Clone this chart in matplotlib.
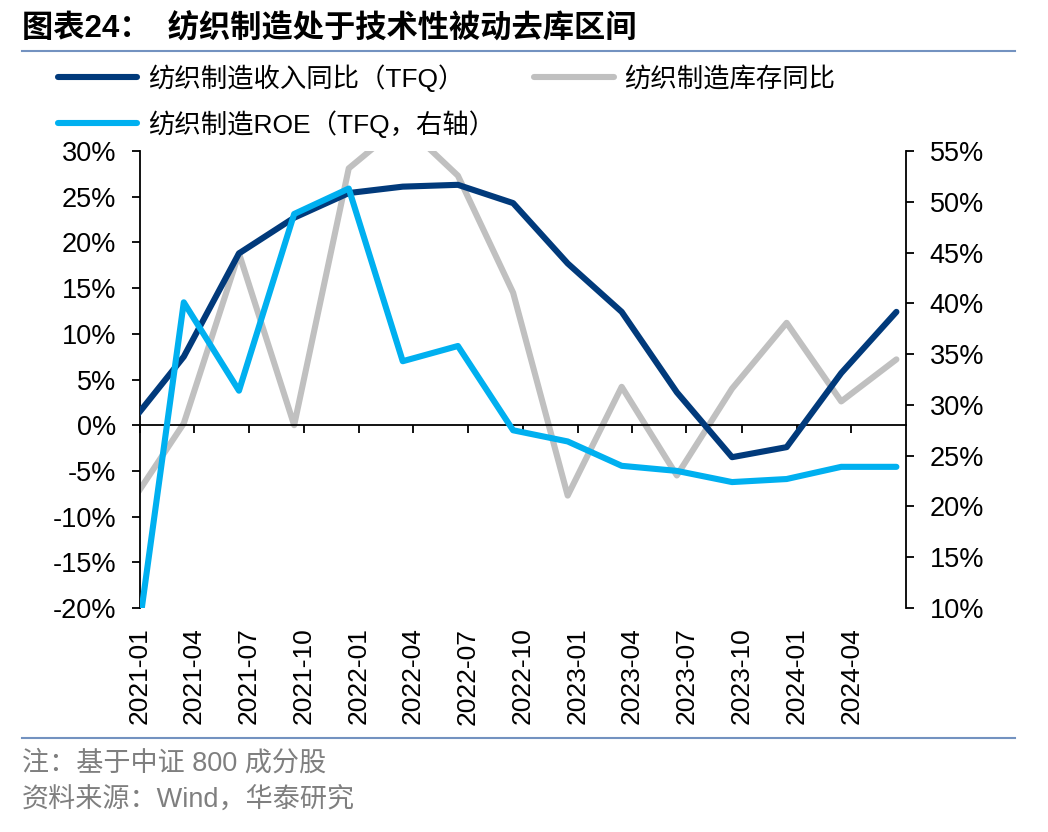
import matplotlib
matplotlib.use("Agg")
import matplotlib.pyplot as plt
import matplotlib.dates as mdates
from matplotlib.ticker import MultipleLocator, FuncFormatter
import pandas as pd

plt.rcParams['font.family'] = ['Liberation Sans', 'Noto Sans CJK SC']
plt.rcParams['axes.unicode_minus'] = False

# quarterly data (month of quarter end)
quarters = ['2020-12', '2021-03', '2021-06', '2021-09', '2021-12', '2022-03', '2022-06',
            '2022-09', '2022-12', '2023-03', '2023-06', '2023-09', '2023-12', '2024-03', '2024-06']
revenue_yoy = [0.1, 7.5, 18.8, 22.7, 25.4, 26.1, 26.3, 24.3, 17.7, 12.4, 3.6, -3.5, -2.4, 5.7, 12.4]
inventory_yoy = [-8.7, 0.2, 18.8, 0.0, 28.1, 33.0, 27.3, 14.5, -7.7, 4.2, -5.5, 4.0, 11.2, 2.6, 7.2]
roe = [1.4, 40.1, 31.4, 48.8, 51.3, 34.3, 35.8, 27.5, 26.4, 24.0, 23.5, 22.4, 22.7, 23.9, 23.9]

name_rev = '纺织制造收入同比（TFQ）'
name_inv = '纺织制造库存同比'
name_roe = '纺织制造ROE（TFQ，右轴）'

# points sit in the middle of their month
dates = pd.to_datetime(quarters) + pd.Timedelta(days=14)

c_rev = '#013A7B'
c_inv = '#C0C0C0'
c_roe = '#00B0F0'
lw = 4.4

fig = plt.figure(figsize=(10.48, 8.32), dpi=100)
ax = fig.add_axes([140/1048, 224/832, 766/1048, 457/832])
ax2 = ax.twinx()

l1, = ax.plot(dates, revenue_yoy, color=c_rev, lw=lw, solid_capstyle='round', zorder=3)
l2, = ax.plot(dates, inventory_yoy, color=c_inv, lw=lw, solid_capstyle='round', zorder=2)
l3, = ax2.plot(dates, roe, color=c_roe, lw=lw, solid_capstyle='round', zorder=3)

ax.set_xlim(pd.Timestamp('2021-01-01'), pd.Timestamp('2024-07-01'))
ax.set_ylim(-20, 30)
ax2.set_ylim(10, 55)
ax.yaxis.set_major_locator(MultipleLocator(5))
ax2.yaxis.set_major_locator(MultipleLocator(5))
pct = FuncFormatter(lambda v, p: f'{v:.0f}%')
ax.yaxis.set_major_formatter(pct)
ax2.yaxis.set_major_formatter(pct)

ax.set_xticks(pd.date_range('2021-01-01', '2024-04-01', freq='3MS'))
ax.xaxis.set_major_formatter(mdates.DateFormatter('%Y-%m'))

# x axis line at zero, labels pushed down to the bottom of the plot
ax.spines['bottom'].set_position(('data', 0))
ax.spines['top'].set_visible(False)
ax.spines['right'].set_visible(False)
for s in ['top', 'bottom', 'left']:
    ax2.spines[s].set_visible(False)
for s in [ax.spines['left'], ax.spines['bottom'], ax2.spines['right']]:
    s.set_linewidth(1.3)
    s.set_color('black')

ax.tick_params(axis='x', direction='out', length=6, width=1.3, pad=(202 - 8) * 0.72,
               labelsize=19, labelrotation=90)
ax.tick_params(axis='y', direction='out', length=6, width=1.3, pad=11, labelsize=19.5)
ax2.tick_params(axis='y', direction='out', length=6, width=1.3, pad=11, labelsize=19.5)

# title and rules
fig.text(22/1048, 1 - 28/832, '图表24：  纺织制造处于技术性被动去库区间', fontsize=22.5,
         fontweight='bold', va='center', ha='left')
fig.add_artist(plt.Line2D([22/1048, 1015/1048], [1 - 51/832, 1 - 51/832], color='#7392C0', lw=1.5))
fig.add_artist(plt.Line2D([22/1048, 1015/1048], [1 - 738/832, 1 - 738/832], color='#7392C0', lw=1.5))

fig.legend([l1, l3, l2], [name_rev, name_roe, name_inv], ncol=2, frameon=False,
           loc='upper left', bbox_to_anchor=(58/1048, 1 - 64/832), borderaxespad=0, borderpad=0,
           fontsize=19, handlelength=3.0, handletextpad=0.4, columnspacing=1.5, labelspacing=0.7)

fig.text(22/1048, 1 - 764/832, '注：基于中证 800 成分股', fontsize=19.5, color='#7F7F7F', va='center')
fig.text(22/1048, 1 - 801/832, '资料来源：Wind，华泰研究', fontsize=19.5, color='#7F7F7F', va='center')

fig.savefig('out.png', dpi=100)
